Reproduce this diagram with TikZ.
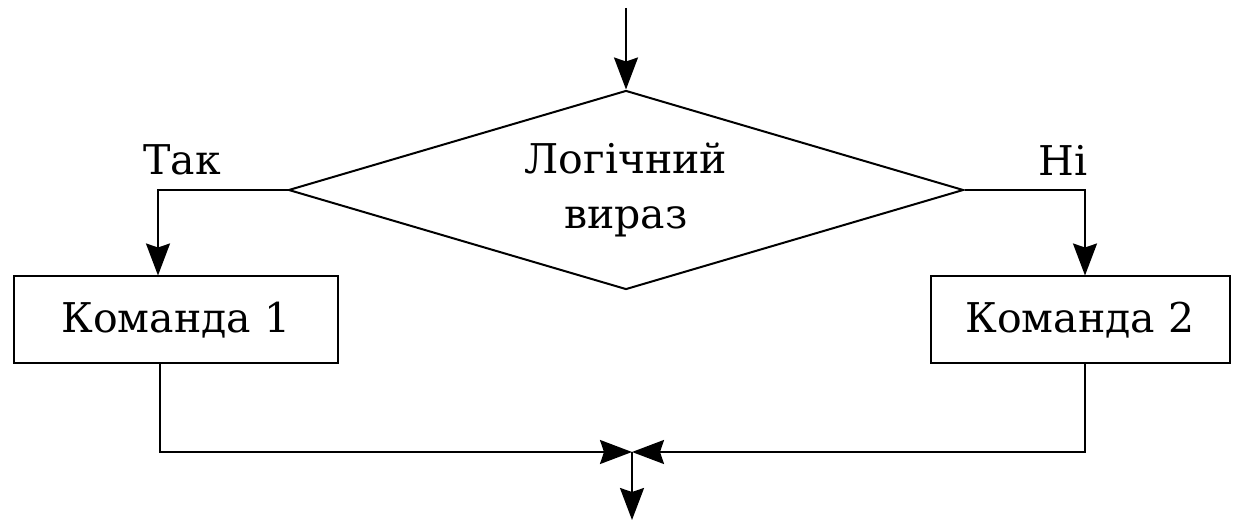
\documentclass[tikz,border=0pt]{standalone}
\usepackage{fontspec}
\setmainfont{DejaVu Serif}
\usetikzlibrary{arrows.meta,shapes.geometric}

\begin{document}
\begin{tikzpicture}[x=1pt,y=-1pt,line width=2pt,
  every node/.style={font=\fontsize{41}{57}\selectfont},
  cmdbox/.style={draw,inner sep=0pt,minimum height=87pt},
  decision/.style={draw,diamond,aspect=3.39,inner sep=0pt,minimum width=675pt,minimum height=199pt,align=center},
  flow/.style={-{Stealth[length=32pt,width=24pt,inset=4pt]}},
  lbl/.style={inner sep=0pt}
]
\useasboundingbox (0,0) rectangle (1243,521);

% blocks
\node[decision] (cond) at (626,190) {Логічний\\[-2pt]вираз};
\node[cmdbox,minimum width=324pt] (cmd1) at (176,320) {Команда 1};
\node[cmdbox,minimum width=299pt] (cmd2) at (1080,320) {Команда 2};

% branch labels
\node[lbl] (yes) at (182,160) {Так};
\node[lbl] (no) at (1063,160) {Ні};

% free ends of the flow
\coordinate (start) at (626,8);
\coordinate (join) at (632,452);
\coordinate (finish) at (632,520);

% connectors
\draw[flow] (start) -- (cond.north);
\draw[flow] (cond.west) -| ([xshift=-18pt]cmd1.north);
\draw[flow] (cond.east) -| ([xshift=5pt]cmd2.north);
\draw[flow] ([xshift=-16pt]cmd1.south) |- (join);
\draw[flow] ([xshift=5pt]cmd2.south) |- (join);
\draw[flow] (join) -- (finish);
\end{tikzpicture}
\end{document}
